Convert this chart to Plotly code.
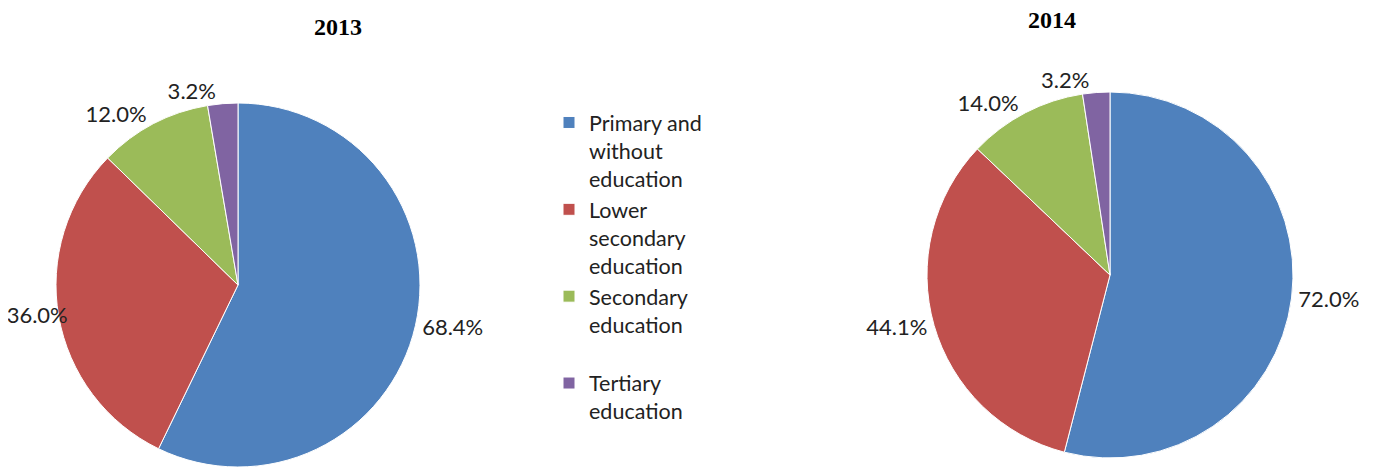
import plotly.graph_objects as go

categories = ["Primary and<br>without<br>education", "Lower<br>secondary<br>education",
              "Secondary<br>education<br> ", "Tertiary<br>education"]
values_2013 = [68.4, 36.0, 12.0, 3.2]
values_2014 = [72.0, 44.1, 14.0, 3.2]
years = ["2013", "2014"]
colors = ["#4F81BD", "#C0504D", "#9BBB59", "#8064A2"]

W, H = 1391, 468
OFF = 8  # page body margin of the browser
TXT = dict(family="Lato", size=22, color="#222222")


def clamp(v):
    return max(0.0, min(1.0, v))


def px(sx):
    return (sx - OFF) / W


def py(sy):
    return 1 - (sy - OFF) / H


def dom(cx, cy, r):
    return dict(x=[clamp(px(cx - r - 20)), clamp(px(cx + r + 20))],
                y=[clamp(py(cy + r)), clamp(py(cy - r))])


def pies(vals, cx, cy, r, label_groups):
    """label_groups: list of (slice indices, radius reduction for label placement)"""
    traces = []
    for gi, (idx, dr) in enumerate(label_groups):
        first = gi == 0
        traces.append(go.Pie(
            labels=categories, values=vals, sort=False, direction="clockwise", rotation=0,
            marker=dict(colors=colors if first else ["rgba(0,0,0,0)"] * 4,
                        line=dict(color="white" if first else "rgba(0,0,0,0)", width=1 if first else 0)),
            texttemplate="%{value:.1f}%",
            textposition=["outside" if i in idx else "none" for i in range(len(vals))],
            textfont=TXT, domain=dom(cx, cy, r - dr),
            hoverinfo="label+value" if first else "skip", showlegend=first,
        ))
    return traces


fig = go.Figure()
for t in pies(values_2013, 238, 285, 182, [([0, 2], 0), ([3], 0), ([1], 16)]):
    fig.add_trace(t)
for t in pies(values_2014, 1110, 275, 183, [([0, 1, 2], 0), ([3], 0)]):
    fig.add_trace(t)

fig.add_annotation(text="<b>" + years[0] + "</b>", x=px(338), y=py(27), xref="paper", yref="paper",
                   xanchor="center", yanchor="middle", showarrow=False,
                   font=dict(family="Liberation Serif", size=24, color="black"))
fig.add_annotation(text="<b>" + years[1] + "</b>", x=px(1052), y=py(20), xref="paper", yref="paper",
                   xanchor="center", yanchor="middle", showarrow=False,
                   font=dict(family="Liberation Serif", size=24, color="black"))

fig.update_layout(
    width=W, height=H, margin=dict(l=0, r=0, t=0, b=0, autoexpand=False),
    paper_bgcolor="white", plot_bgcolor="white",
    legend=dict(x=px(549), y=py(102), xanchor="left", yanchor="top", valign="top",
                font=dict(family="Lato", size=21.5, color="#222222"),
                tracegroupgap=0, itemwidth=30, bgcolor="rgba(0,0,0,0)"),
)

fig.write_html("out.html")
